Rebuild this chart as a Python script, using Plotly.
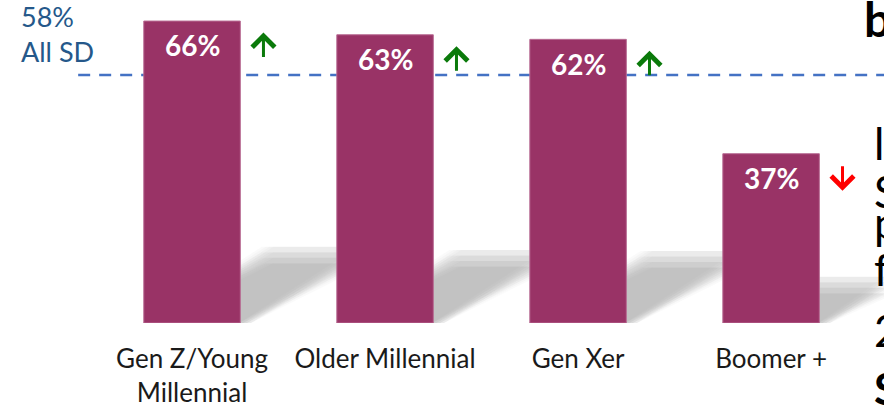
import plotly.graph_objects as go

# ---- data ----
categories = ["Gen Z/Young<br>Millennial", "Older Millennial", "Gen Xer", "Boomer +"]
values = [66, 63, 62, 37]
value_labels = ["66%", "63%", "62%", "37%"]
trend = ["up", "up", "up", "down"]
all_sd_label = ["58%", "All SD"]
all_sd_line = 54.2          # where the dashed reference line sits in the picture
side_letters = ["l", "S", "p", "f", "2", "<b>S</b>"]

BAR_COLOR = "#993366"
FONT = "Lato"
x_pos = list(range(len(categories)))
BAR_W = 0.5
PLOT_H = 323  # plot-area height in px

fig = go.Figure()

# ---- soft shadows behind bars (derived from bar values) ----
KX = 0.00934   # x-shift per unit of value
KY = 0.225     # rise per unit of value
shifts = [(ox, oy) for ox in (-0.005, 0.015, 0.035, 0.055) for oy in (-1.8, -0.6, 0.6, 1.8)]
for xi, v in zip(x_pos, values):
    xl, xr = xi - BAR_W / 2, xi + BAR_W / 2
    dx, dy = KX * v, KY * v
    for ox, oy in shifts:
        pts = [(xl + ox, 0), (xr + ox, 0), (xr + dx + ox, dy + oy), (xl + dx + ox, dy + oy)]
        path = "M " + " L ".join(f"{px},{max(py, 0)}" for px, py in pts) + " Z"
        fig.add_shape(type="path", path=path, xref="x", yref="y",
                      fillcolor="rgba(165,165,165,0.05)", line=dict(width=0),
                      layer="below")

# ---- bars ----
fig.add_trace(go.Bar(
    x=x_pos, y=values, width=BAR_W,
    marker=dict(color=BAR_COLOR, line=dict(color="#b86b93", width=1)),
    hoverinfo="skip", showlegend=False))

# ---- reference line ----
fig.add_shape(type="line", xref="x", yref="y",
              x0=-0.59, x1=3.6, y0=all_sd_line, y1=all_sd_line,
              line=dict(color="#4472c4", width=2.5, dash="12px,9px"), layer="below")

# value labels inside bars + trend arrows
for xi, v, lab, t in zip(x_pos, values, value_labels, trend):
    fig.add_annotation(x=xi, y=v - 5.3, text=f"<b>{lab}</b>", showarrow=False,
                       xanchor="center", yanchor="middle",
                       font=dict(family=FONT, size=28, color="white"))
    up = t == "up"
    fig.add_annotation(x=xi + 0.37, y=v - 5.3 + (2.8 if up else -2.8), text="",
                       showarrow=True, arrowhead=4, arrowsize=1.45, arrowwidth=3,
                       arrowcolor="#0b7a0b" if up else "#ff0000",
                       ax=0, ay=26 if up else -26, standoff=0)

# 58% All SD label
fig.add_annotation(x=-0.895, y=all_sd_line, text="<br>".join(all_sd_label),
                   showarrow=False, xanchor="left", yanchor="bottom", yshift=5,
                   align="left", font=dict(family=FONT, size=27, color="#25588a"))

# clipped text from neighbouring element on the right
fig.add_annotation(xref="paper", yref="paper", x=862 / 884, y=1 + 12 / PLOT_H,
                   xanchor="left", yanchor="top", text="<b>b</b>", showarrow=False,
                   font=dict(family=FONT, size=48, color="black"))
letter_tops = [115, 163, 194, 241, 302, 360]
for ch, top in zip(side_letters, letter_tops):
    fig.add_annotation(xref="paper", yref="paper", x=872 / 884,
                       y=1 - top / PLOT_H, xanchor="left", yanchor="top",
                       text=ch, showarrow=False,
                       font=dict(family=FONT, size=44, color="black"))

fig.update_layout(
    width=884, height=407,
    margin=dict(l=0, r=0, t=0, b=84),
    paper_bgcolor="white", plot_bgcolor="white",
    xaxis=dict(range=[-0.995, 3.585], tickvals=x_pos, ticktext=categories,
               showgrid=False, zeroline=False, showline=False, ticks="",
               ticklabelstandoff=18,
               tickfont=dict(family=FONT, size=26, color="#1a1a1a")),
    yaxis=dict(range=[0, 70.6], visible=False, showgrid=False, zeroline=False),
    bargap=0.5,
)

fig.write_html("out.html", config={"displayModeBar": False},
               post_script="document.body.style.margin='0px';")
